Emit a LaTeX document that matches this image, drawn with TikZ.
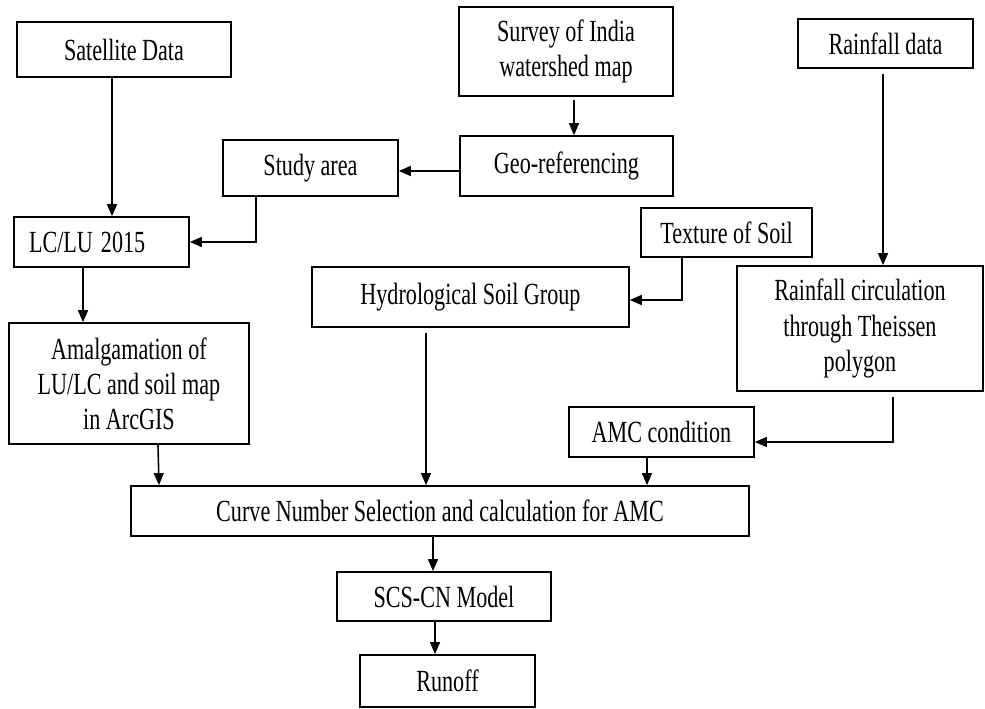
\documentclass[tikz,border=0pt]{standalone}
\usepackage{fontspec}
\setmainfont[FakeStretch=0.72]{Liberation Serif}
\usetikzlibrary{arrows.meta}
\tikzset{
  box/.style={draw, line width=1pt, align=center, inner sep=0pt,
    font=\fontsize{17.5pt}{20pt}\selectfont},
  arr/.style={line width=0.9pt, -{Triangle[length=0.24cm,width=0.2cm]}}
}
\begin{document}
\begin{tikzpicture}[x=0.02cm, y=-0.02cm]
	\useasboundingbox (0,0) rectangle (985,709);

	% boxes
	\node[box, minimum width=4.28cm, minimum height=1.10cm] (sat) at (124,49.5) {Satellite Data};
	\node[box, minimum width=4.28cm, minimum height=1.78cm] (survey) at (566,51.5) {Survey of India\\watershed map};
	\node[box, minimum width=3.50cm, minimum height=0.98cm] (rain) at (885.5,43.5) {Rainfall data};
	\node[box, minimum width=4.26cm, minimum height=1.20cm] (geo) at (566.5,166) {Geo-referencing};
	\node[box, minimum width=3.50cm, minimum height=1.12cm] (study) at (310.5,168) {Study area};
	\node[box, minimum width=3.50cm, minimum height=1.00cm, inner xsep=0.3cm, text width=2.9cm, align=left] (lclu) at (101.5,242) {LC/LU\hspace{0.16cm}2015};
	\node[box, minimum width=3.42cm, minimum height=0.98cm] (texture) at (726.5,232.5) {Texture of Soil};
	\node[box, minimum width=6.34cm, minimum height=1.20cm] (hydro) at (470.5,297) {Hydrological Soil Group};
	\node[box, minimum width=4.92cm, minimum height=2.50cm] (raincirc) at (860,328.5) {Rainfall circulation\\through Theissen\\polygon};
	\node[box, minimum width=4.80cm, minimum height=2.42cm] (amal) at (129,383.5) {Amalgamation of\\LU/LC and soil map\\in ArcGIS};
	\node[box, minimum width=3.70cm, minimum height=1.00cm] (amc) at (661.5,432) {AMC condition};
	\node[box, minimum width=12.36cm, minimum height=1.00cm] (curve) at (440,511) {Curve Number Selection and calculation for AMC};
	\node[box, minimum width=4.28cm, minimum height=0.98cm] (scs) at (444,596.5) {SCS-CN Model};
	\node[box, minimum width=3.50cm, minimum height=1.04cm] (runoff) at (447.5,681) {Runoff};

	% arrows
	\draw[arr] ([xshift=-0.24cm]sat.south) -- ([xshift=-0.24cm]sat.south |- lclu.north);
	\draw[arr] ([xshift=0.16cm,yshift=-0.06cm]survey.south) -- ([xshift=0.16cm]survey.south |- geo.north);
	\draw[arr] ([yshift=-0.1cm]geo.west) -- ([yshift=-0.1cm]geo.west -| study.east);
	\draw[arr] ([xshift=-1.09cm]study.south) |- (lclu.east);
	\draw[arr] ([xshift=-0.37cm]lclu.south) -- ([xshift=-0.37cm]lclu.south |- amal.north);
	\draw[arr] ([xshift=0.58cm]amal.south) -- ([xshift=0.6cm]amal.south |- curve.north);
	\draw[arr] ([xshift=-0.89cm,yshift=-0.1cm]hydro.south) -- ([xshift=-0.89cm]hydro.south |- curve.north);
	\draw[arr] ([xshift=-0.89cm]texture.south) |- ([yshift=-0.06cm]hydro.east);
	\draw[arr] ([xshift=-0.05cm,yshift=-0.1cm]rain.south) -- ([xshift=-0.05cm]rain.south |- raincirc.north);
	\draw[arr] ([xshift=0.66cm,yshift=-0.1cm]raincirc.south) |- ([yshift=-0.2cm]amc.east);
	\draw[arr] ([xshift=-0.29cm]amc.south) -- ([xshift=-0.29cm]amc.south |- curve.north);
	\draw[arr] ([xshift=-0.14cm]curve.south) -- ([xshift=-0.14cm]curve.south |- scs.north);
	\draw[arr] ([xshift=-0.18cm]scs.south) -- ([xshift=-0.18cm]scs.south |- runoff.north);
\end{tikzpicture}
\end{document}
